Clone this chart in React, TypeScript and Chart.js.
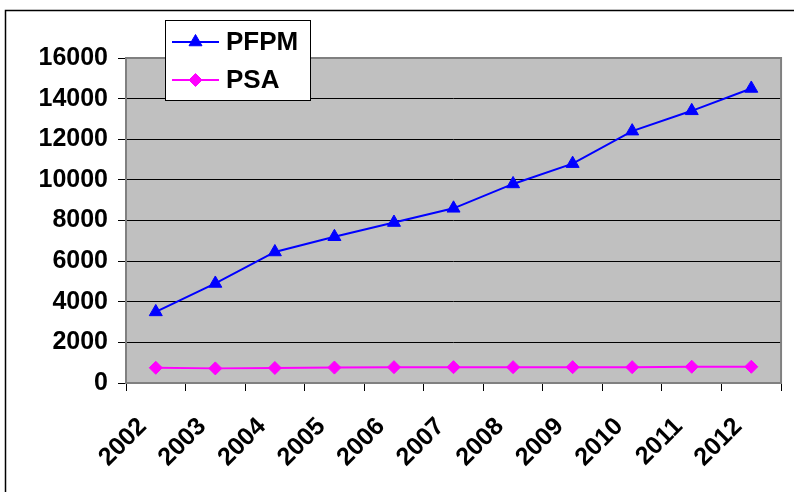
import React, { useEffect, useRef } from "react";
import { Chart, registerables } from "chart.js";

Chart.register(...registerables);

const years = ["2002", "2003", "2004", "2005", "2006", "2007", "2008", "2009", "2010", "2011", "2012"];
const pfpm = [3500, 4900, 6450, 7200, 7900, 8600, 9800, 10800, 12400, 13400, 14500];
const psa = [750, 720, 740, 760, 780, 780, 780, 780, 780, 800, 800];
const seriesNames = ["PFPM", "PSA"];
const FONT = "'Liberation Sans', Arial, sans-serif";

const framePlugin = {
  id: "frame",
  beforeDraw(chart: any) {
    const { ctx, chartArea: a } = chart;
    ctx.save();
    ctx.fillStyle = "#ffffff";
    ctx.fillRect(0, 0, chart.width, chart.height);
    ctx.fillStyle = "#C0C0C0";
    ctx.fillRect(a.left, a.top, a.right - a.left, a.bottom - a.top);
    ctx.restore();
  },
  beforeDatasetsDraw(chart: any) {
    const { ctx, chartArea: a } = chart;
    ctx.save();
    ctx.strokeStyle = "#808080";
    ctx.lineWidth = 2;
    ctx.strokeRect(a.left, a.top, a.right - a.left, a.bottom - a.top);
    ctx.restore();
  },
  afterDraw(chart: any) {
    const { ctx } = chart;
    ctx.save();
    ctx.strokeStyle = "#000000";
    ctx.lineWidth = 1.5;
    ctx.strokeRect(5.5, 10.5, 900, 600);
    const lx = 165.5, ly = 20.5, lw = 145, lh = 80;
    ctx.fillStyle = "#ffffff";
    ctx.fillRect(lx, ly, lw, lh);
    ctx.strokeStyle = "#000000";
    ctx.lineWidth = 1;
    ctx.strokeRect(lx, ly, lw, lh);
    const items = [
      { y: 42, color: "#0000FF", style: "triangle", r: 7.5 },
      { y: 80, color: "#FF00FF", style: "rectRot", r: 6.5 },
    ];
    items.forEach((it, i) => {
      ctx.strokeStyle = it.color;
      ctx.lineWidth = 2;
      ctx.beginPath();
      ctx.moveTo(172, it.y);
      ctx.lineTo(219, it.y);
      ctx.stroke();
      ctx.fillStyle = it.color;
      ctx.lineWidth = 1;
      ctx.beginPath();
      const r = it.r;
      if (it.style === "triangle") {
        ctx.moveTo(195.5, it.y - r);
        ctx.lineTo(195.5 + r * Math.sin((2 * Math.PI) / 3), it.y - r * Math.cos((2 * Math.PI) / 3));
        ctx.lineTo(195.5 + r * Math.sin((4 * Math.PI) / 3), it.y - r * Math.cos((4 * Math.PI) / 3));
      } else {
        ctx.moveTo(195.5 - r, it.y);
        ctx.lineTo(195.5, it.y - r);
        ctx.lineTo(195.5 + r, it.y);
        ctx.lineTo(195.5, it.y + r);
      }
      ctx.closePath();
      ctx.fill();
      ctx.stroke();
      ctx.fillStyle = "#000000";
      ctx.font = `bold 26px ${FONT}`;
      ctx.textAlign = "left";
      ctx.textBaseline = "middle";
      ctx.fillText(seriesNames[i], 226, it.y + 1);
    });
    ctx.restore();
  },
};

export default function App() {
  const ref = useRef<HTMLCanvasElement | null>(null);
  useEffect(() => {
    if (!ref.current) return;
    const chart = new Chart(ref.current, {
      type: "line",
      data: {
        labels: years,
        datasets: [
          {
            label: seriesNames[0],
            data: pfpm,
            borderColor: "#0000FF",
            backgroundColor: "#0000FF",
            borderWidth: 2,
            pointStyle: "triangle",
            pointRadius: 7.5,
            pointBorderWidth: 1,
            tension: 0,
          },
          {
            label: seriesNames[1],
            data: psa,
            borderColor: "#FF00FF",
            backgroundColor: "#FF00FF",
            borderWidth: 2,
            pointStyle: "rectRot",
            pointRadius: 6.5,
            pointBorderWidth: 1,
            tension: 0,
          },
        ],
      },
      options: {
        animation: false,
        responsive: true,
        maintainAspectRatio: false,
        layout: { padding: { left: 0, top: 58, right: 11, bottom: 0 } },
        plugins: {
          legend: { display: false },
          tooltip: { enabled: false },
        },
        scales: {
          x: {
            offset: true,
            grid: {
              offset: true,
              drawOnChartArea: false,
              drawTicks: true,
              tickLength: 8,
              color: "#000000",
            },
            border: { display: false },
            ticks: {
              minRotation: 45,
              maxRotation: 45,
              color: "#000000",
              padding: 21,
              labelOffset: -13,
              font: { family: FONT, size: 25, weight: "bold" },
            },
            afterFit: (s: any) => {
              s.height = 109;
            },
          },
          y: {
            min: 0,
            max: 16000,
            ticks: {
              stepSize: 2000,
              color: "#000000",
              padding: 10,
              font: { family: FONT, size: 25, weight: "bold" },
              callback: (v: any) => String(v),
            },
            grid: {
              color: "#000000",
              tickLength: 8,
            },
            border: { display: false },
            afterFit: (s: any) => {
              s.width = 126;
            },
          },
        },
      },
      plugins: [framePlugin],
    });
    return () => chart.destroy();
  }, []);
  return (
    <div style={{ position: "absolute", left: 0, top: 0, width: 794, height: 492 }}>
      <canvas ref={ref} />
    </div>
  );
}
